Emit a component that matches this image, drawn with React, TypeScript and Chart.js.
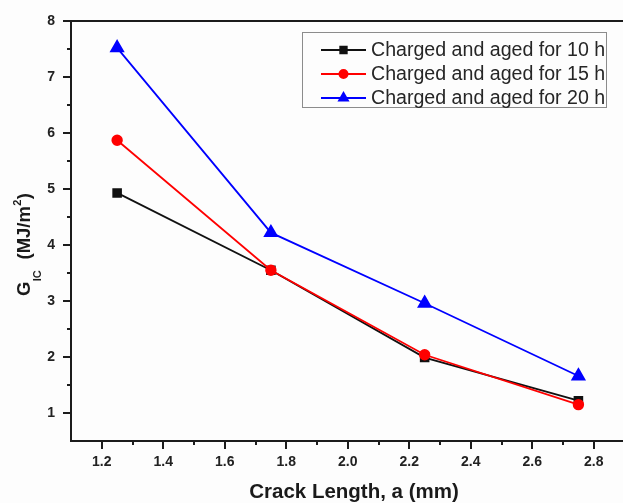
import React, { useEffect, useRef } from "react";
import { Chart, registerables } from "chart.js";
import { drawPoint } from "chart.js/helpers";

Chart.register(...registerables);

// ---- data ----
const crackLength = [1.25, 1.75, 2.25, 2.75];
const aged10h = [4.93, 3.55, 1.99, 1.22];
const aged15h = [5.87, 3.55, 2.04, 1.15];
const aged20h = [7.52, 4.22, 2.96, 1.66];
const seriesLabels = [
  "Charged and aged for 10 h",
  "Charged and aged for 15 h",
  "Charged and aged for 20 h",
];
const xTickLabels = ["1.2", "1.4", "1.6", "1.8", "2.0", "2.2", "2.4", "2.6", "2.8"];
const yTickLabels = ["1", "2", "3", "4", "5", "6", "7", "8"];
const xTitle = "Crack Length, a (mm)";

const AXIS = "#1c1c1c";
const FONT = "'Liberation Sans', Arial, sans-serif";

function labelFor(list: string[], v: number) {
  const hit = list.find((s) => Math.abs(parseFloat(s) - v) < 1e-6);
  return hit ?? "";
}

const decorPlugin = {
  id: "decor",
  beforeDraw(chart: any) {
    const ctx = chart.ctx;
    ctx.save();
    ctx.fillStyle = "#fdfdfd";
    ctx.fillRect(0, 0, chart.width, chart.height);
    ctx.restore();
  },
  afterDraw(chart: any) {
    const ctx = chart.ctx;
    const { left, top, bottom } = chart.chartArea;
    const xs = chart.scales.x;
    const ys = chart.scales.y;
    ctx.save();
    ctx.strokeStyle = AXIS;
    ctx.lineWidth = 2;
    // top border
    ctx.beginPath();
    ctx.moveTo(left - 1, top);
    ctx.lineTo(chart.width, top);
    ctx.stroke();
    // y ticks
    for (let k = 2; k <= 16; k++) {
      const v = k / 2;
      const py = Math.round(ys.getPixelForValue(v));
      const len = k % 2 === 0 ? 8 : 4;
      ctx.beginPath();
      ctx.moveTo(left - len, py);
      ctx.lineTo(left, py);
      ctx.stroke();
    }
    // x ticks
    for (let k = 12; k <= 28; k++) {
      const v = k / 10;
      const px = Math.round(xs.getPixelForValue(v));
      const len = k % 2 === 0 ? 8 : 4;
      ctx.beginPath();
      ctx.moveTo(px, bottom);
      ctx.lineTo(px, bottom + len);
      ctx.stroke();
    }

    // x title
    ctx.fillStyle = "#1a1a1a";
    ctx.font = `bold 20.5px ${FONT}`;
    ctx.textAlign = "center";
    ctx.textBaseline = "alphabetic";
    ctx.fillText(xTitle, 354, 498);

    // y title with subscript / superscript
    const pieces = [
      { t: "G", size: 18.5, dy: 0 },
      { t: "IC", size: 11, dy: 11 },
      { t: "  (MJ/m", size: 18.5, dy: 0 },
      { t: "2", size: 11, dy: -9 },
      { t: ")", size: 18.5, dy: 0 },
    ];
    let total = 0;
    for (const p of pieces) {
      ctx.font = `bold ${p.size}px ${FONT}`;
      total += ctx.measureText(p.t).width;
    }
    const startY = 296;
    const endY = 193;
    const extra = (startY - endY - total) / (pieces.length - 1);
    ctx.translate(30, startY);
    ctx.rotate(-Math.PI / 2);
    ctx.textAlign = "left";
    let cx = 0;
    for (const p of pieces) {
      ctx.font = `bold ${p.size}px ${FONT}`;
      ctx.fillText(p.t, cx, p.dy);
      cx += ctx.measureText(p.t).width + Math.max(0, Math.min(extra, 3));
    }
    ctx.setTransform(1, 0, 0, 1, 0, 0);

    // legend
    ctx.lineWidth = 1;
    ctx.strokeStyle = "#8c8c8c";
    ctx.strokeRect(302.5, 32.5, 304, 75);
    const rowsY = [50, 74, 98];
    const legendRadius = [4.5, 4, 5];
    chart.data.datasets.forEach((ds: any, i: number) => {
      const y = rowsY[i];
      ctx.strokeStyle = ds.borderColor;
      ctx.lineWidth = 2;
      ctx.beginPath();
      ctx.moveTo(321, y);
      ctx.lineTo(366, y);
      ctx.stroke();
      ctx.fillStyle = ds.pointBackgroundColor;
      ctx.strokeStyle = ds.borderColor;
      drawPoint(ctx, { pointStyle: ds.pointStyle, radius: legendRadius[i], rotation: 0, borderWidth: 1 }, 343.5, y);
      ctx.fillStyle = "#262626";
      ctx.font = `19.6px ${FONT}`;
      ctx.textAlign = "left";
      ctx.textBaseline = "middle";
      ctx.fillText(ds.label, 371, y + 1);
    });
    ctx.restore();
  },
};

export default function App() {
  const ref = useRef<HTMLCanvasElement | null>(null);
  useEffect(() => {
    if (!ref.current) return;
    const mk = (vals: number[]) => crackLength.map((x, i) => ({ x, y: vals[i] }));
    const chart = new Chart(ref.current, {
      type: "line",
      data: {
        datasets: [
          {
            label: seriesLabels[0],
            data: mk(aged10h),
            borderColor: "#111111",
            backgroundColor: "#111111",
            pointBackgroundColor: "#111111",
            pointBorderColor: "#111111",
            pointStyle: "rect",
            pointRadius: 5.5,
            borderWidth: 1.8,
            order: 3,
          },
          {
            label: seriesLabels[1],
            data: mk(aged15h),
            borderColor: "#ff0000",
            backgroundColor: "#ff0000",
            pointBackgroundColor: "#ff0000",
            pointBorderColor: "#ff0000",
            pointStyle: "circle",
            pointRadius: 4.8,
            borderWidth: 1.8,
            order: 2,
          },
          {
            label: seriesLabels[2],
            data: mk(aged20h),
            borderColor: "#0000ff",
            backgroundColor: "#0000ff",
            pointBackgroundColor: "#0000ff",
            pointBorderColor: "#0000ff",
            pointStyle: "triangle",
            pointRadius: 7,
            borderWidth: 1.8,
            order: 1,
          },
        ],
      },
      options: {
        responsive: false,
        animation: false,
        layout: { autoPadding: false, padding: { top: 21, right: 0, left: 0, bottom: 0 } },
        plugins: { legend: { display: false }, tooltip: { enabled: false } },
        scales: {
          x: {
            type: "linear",
            min: 1.1,
            max: 2.895,
            grid: { display: false, drawTicks: false },
            border: { display: true, color: AXIS, width: 2 },
            afterBuildTicks: (s: any) => {
              s.ticks = xTickLabels.map((l) => ({ value: parseFloat(l) }));
            },
            ticks: {
              autoSkip: false,
              maxRotation: 0,
              padding: 13,
              color: "#222",
              font: { family: FONT, size: 14, weight: "bold" },
              callback: (v: any) => labelFor(xTickLabels, Number(v)),
            },
            afterFit: (s: any) => {
              s.height = 62;
              s.paddingRight = 0;
              s.paddingLeft = 0;
            },
          },
          y: {
            type: "linear",
            min: 0.5,
            max: 8,
            grid: { display: false, drawTicks: false },
            border: { display: true, color: AXIS, width: 2 },
            afterBuildTicks: (s: any) => {
              s.ticks = yTickLabels.map((l) => ({ value: parseFloat(l) }));
            },
            ticks: {
              autoSkip: false,
              padding: 16,
              color: "#222",
              font: { family: FONT, size: 14, weight: "bold" },
              callback: (v: any) => labelFor(yTickLabels, Number(v)),
            },
            afterFit: (s: any) => {
              s.width = 71;
              s.paddingTop = 0;
              s.paddingBottom = 0;
            },
          },
        },
      },
      plugins: [decorPlugin],
    });
    return () => chart.destroy();
  }, []);
  return (
    <div style={{ position: "fixed", left: 0, top: 0, width: 623, height: 503 }}>
      <canvas ref={ref} width={623} height={503} style={{ display: "block" }} />
    </div>
  );
}
